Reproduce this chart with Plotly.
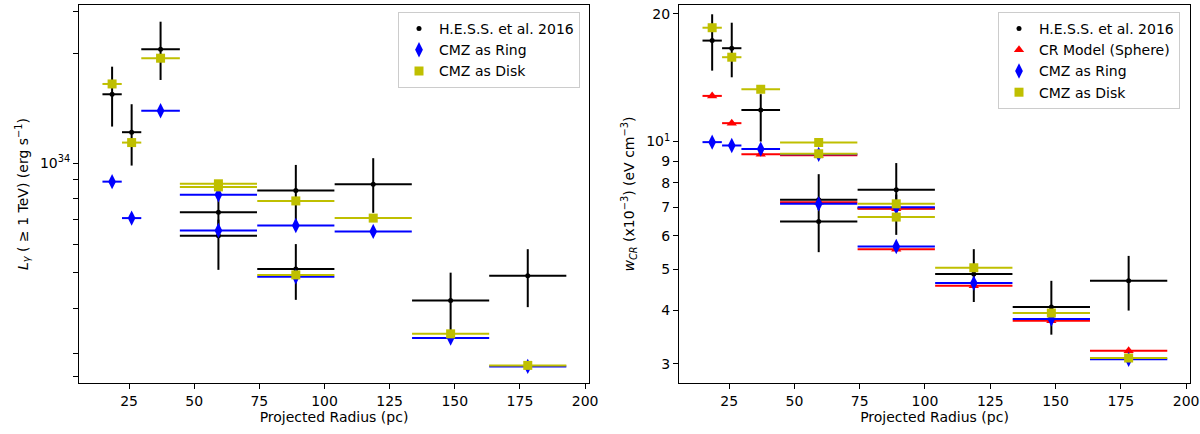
import plotly.graph_objects as go
from plotly.subplots import make_subplots

# projected radius bins (pc): centre and half width
x_pc = [18.5, 26.0, 37.1, 59.3, 59.3, 89.0, 89.0, 118.7, 148.4, 178.0]
x_half = [3.7, 3.7, 7.4, 14.8, 14.8, 14.8, 14.8, 14.8, 14.8, 14.8]

# left panel: L_gamma (>= 1 TeV) in erg/s
hess_lum = [1.545e34, 1.216e34, 2.052e34, 7.34e33, 6.32e33, 8.41e33, 5.13e33, 8.76e33, 4.20e33, 4.91e33]
hess_lum_hi = [1.839e34, 1.451e34, 2.443e34, 8.45e33, 7.00e33, 9.89e33, 6.00e33, 1.032e34, 5.01e33, 5.81e33]
hess_lum_lo = [1.260e34, 0.985e34, 1.691e34, 6.50e33, 5.10e33, 6.90e33, 4.22e33, 7.31e33, 3.42e33, 4.03e33]
ring_lum = [8.90e33, 7.07e33, 1.393e34, 8.19e33, 6.54e33, 6.75e33, 4.88e33, 6.50e33, 3.315e33, 2.772e33]
disk_lum = [1.649e34, 1.139e34, 1.940e34, 8.78e33, 8.61e33, 7.88e33, 4.94e33, 7.07e33, 3.405e33, 2.79e33]

# right panel: w_CR in 1e-3 eV/cm^3
hess_w = [17.29, 16.59, 11.86, 7.29, 6.48, 7.70, 6.97, 4.88, 4.08, 4.70]
hess_w_hi = [19.94, 19.05, 12.93, 8.38, 7.00, 8.90, 7.50, 5.58, 4.70, 5.38]
hess_w_lo = [14.69, 14.17, 10.00, 6.90, 5.49, 7.30, 6.03, 4.19, 3.51, 4.00]
sphere_w = [12.81, 11.05, 9.33, 7.20, 9.28, 5.58, 6.95, 4.575, 3.785, 3.218]
ring_w = [9.97, 9.79, 9.60, 7.135, 9.33, 5.66, 7.00, 4.643, 3.82, 3.07]
disk_w = [18.54, 15.80, 13.28, 9.95, 9.36, 7.135, 6.64, 5.045, 3.947, 3.093]

left_ticks = [2.6e33, 3e33, 4e33, 5e33, 6e33, 7e33, 8e33, 9e33, 1e34, 2e34, 2.6e34]
left_ticktext = ['', '', '', '', '', '', '', '', '10<sup>34</sup>', '', '']
right_ticks = [3, 4, 5, 6, 7, 8, 9, 10, 20]
right_ticktext = ['3', '4', '5', '6', '7', '8', '9', '10<sup>1</sup>', '20']

FONT = dict(family='DejaVu Sans', size=14, color='black')


def model_trace(y, name, color, symbol, size, legend):
    return go.Scatter(
        x=x_pc, y=y, mode='markers', name=name, legend=legend,
        marker=dict(color=color, symbol=symbol, size=size, line=dict(width=0)),
        error_x=dict(type='data', array=x_half, color=color, thickness=2, width=0),
    )


def hess_trace(y, hi, lo, legend):
    return go.Scatter(
        x=x_pc, y=y, mode='markers', name='H.E.S.S. et al. 2016', legend=legend,
        marker=dict(color='black', symbol='circle', size=5),
        error_x=dict(type='data', array=x_half, color='black', thickness=2, width=0),
        error_y=dict(type='data', symmetric=False,
                     array=[h - v for h, v in zip(hi, y)],
                     arrayminus=[v - l for v, l in zip(y, lo)],
                     color='black', thickness=2, width=0),
    )


fig = make_subplots(rows=1, cols=2)

fig.add_trace(hess_trace(hess_lum, hess_lum_hi, hess_lum_lo, 'legend'), row=1, col=1)
fig.add_trace(model_trace(ring_lum, 'CMZ as Ring', '#0000ff', 'diamond-tall', 11, 'legend'), row=1, col=1)
fig.add_trace(model_trace(disk_lum, 'CMZ as Disk', '#bfbf00', 'square', 9, 'legend'), row=1, col=1)

fig.add_trace(hess_trace(hess_w, hess_w_hi, hess_w_lo, 'legend2'), row=1, col=2)
fig.add_trace(model_trace(sphere_w, 'CR Model (Sphere)', '#ff0000', 'triangle-up', 9, 'legend2'), row=1, col=2)
fig.add_trace(model_trace(ring_w, 'CMZ as Ring', '#0000ff', 'diamond-tall', 11, 'legend2'), row=1, col=2)
fig.add_trace(model_trace(disk_w, 'CMZ as Disk', '#bfbf00', 'square', 9, 'legend2'), row=1, col=2)

W, H = 1200, 434
ydom = [1 - 383 / H, 1 - 5 / H]
axis_common = dict(showline=True, linecolor='black', linewidth=1, mirror=True,
                   ticks='outside', ticklen=5, tickcolor='black', showgrid=False,
                   zeroline=False, automargin=False, tickfont=FONT)

fig.update_xaxes(axis_common)
fig.update_yaxes(axis_common)

fig.update_layout(
    xaxis=dict(domain=[79 / W, 589 / W], range=[5.8, 201.5],
               tickvals=[25, 50, 75, 100, 125, 150, 175, 200],
               title=dict(text='Projected Radius (pc)', font=FONT, standoff=4)),
    xaxis2=dict(domain=[679 / W, 1190 / W], range=[5.8, 201.5],
                tickvals=[25, 50, 75, 100, 125, 150, 175, 200],
                title=dict(text='Projected Radius (pc)', font=FONT, standoff=4)),
    yaxis=dict(domain=ydom, type='log', range=[33.3973, 34.4337],
               tickvals=left_ticks, ticktext=left_ticktext,
               title=dict(text='<i>L</i><sub><i>γ</i></sub> ( ≥ 1 TeV) (erg s<sup>−1</sup>)',
                          font=FONT, standoff=8)),
    yaxis2=dict(domain=ydom, type='log', range=[0.4315, 1.3216],
                tickvals=right_ticks, ticktext=right_ticktext,
                title=dict(text='<i>w</i><sub><i>CR</i></sub> (x10<sup>−3</sup>) (eV cm<sup>−3</sup>)',
                           font=FONT, standoff=8)),
    legend=dict(x=580 / W, y=1 - 12 / H, xanchor='right', yanchor='top',
                bgcolor='rgba(255,255,255,0.8)', bordercolor='#cccccc', borderwidth=1,
                font=FONT),
    legend2=dict(x=1180 / W, y=1 - 12 / H, xanchor='right', yanchor='top',
                 bgcolor='rgba(255,255,255,0.8)', bordercolor='#cccccc', borderwidth=1,
                 font=FONT),
    width=W, height=H,
    margin=dict(l=0, r=0, t=0, b=0),
    plot_bgcolor='white', paper_bgcolor='white',
    font=FONT,
)

fig.write_html("out.html", config={'displayModeBar': False},
               post_script="document.body.style.margin='0';")
